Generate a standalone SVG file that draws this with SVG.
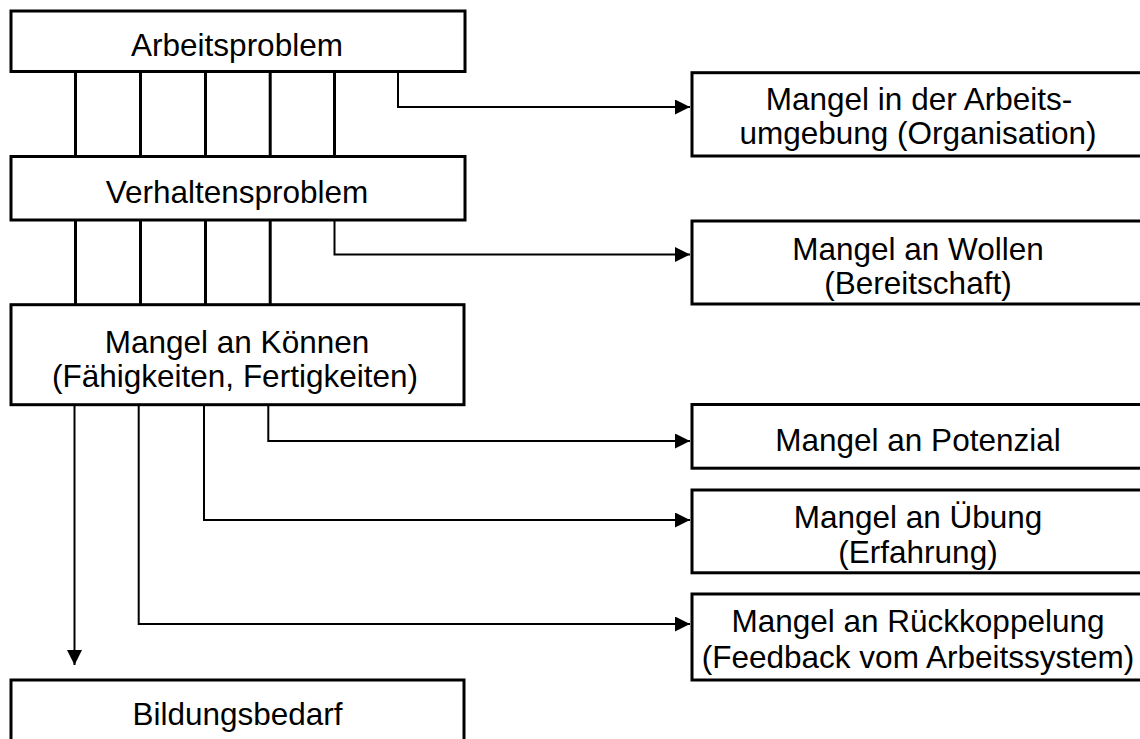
<svg xmlns="http://www.w3.org/2000/svg" width="1140" height="739" viewBox="0 0 1140 739">
  <style>
    .box { fill: #ffffff; stroke: #000000; stroke-width: 3; }
    .lbl { font-family: "Liberation Sans", Arial, sans-serif; font-size: 31.5px; fill: #000000; text-anchor: middle; }
    .bar { stroke: #000000; stroke-width: 3; fill: none; }
    .link { stroke: #000000; stroke-width: 2; fill: none; }
  </style>
  <defs>
    <marker id="arrow" viewBox="0 0 15 15" refX="15" refY="7.5" markerWidth="15" markerHeight="15" markerUnits="userSpaceOnUse" orient="auto">
      <path d="M0,0 L15,7.5 L0,15 Z" fill="#000000"/>
    </marker>
  </defs>

  <rect width="1140" height="739" fill="#ffffff"/>

  <!-- connectors -->
  <g id="connectors">
    <!-- Arbeitsproblem to Verhaltensproblem -->
    <line class="bar" x1="75.5" y1="71" x2="75.5" y2="157"/>
    <line class="bar" x1="140.5" y1="71" x2="140.5" y2="157"/>
    <line class="bar" x1="205.5" y1="71" x2="205.5" y2="157"/>
    <line class="bar" x1="270.2" y1="71" x2="270.2" y2="157"/>
    <line class="bar" x1="334.5" y1="71" x2="334.5" y2="157"/>
    <!-- Verhaltensproblem to Mangel an Koennen -->
    <line class="bar" x1="75.5" y1="219" x2="75.5" y2="305"/>
    <line class="bar" x1="140.5" y1="219" x2="140.5" y2="305"/>
    <line class="bar" x1="205.5" y1="219" x2="205.5" y2="305"/>
    <line class="bar" x1="270.2" y1="219" x2="270.2" y2="305"/>
    <!-- side branches -->
    <path class="link" d="M398,72 V107 H690" marker-end="url(#arrow)"/>
    <path class="link" d="M334.5,219 V254.5 H690" marker-end="url(#arrow)"/>
    <path class="link" d="M268.3,405 V441 H690" marker-end="url(#arrow)"/>
    <path class="link" d="M204,405 V520 H690" marker-end="url(#arrow)"/>
    <path class="link" d="M138.7,405 V624 H690" marker-end="url(#arrow)"/>
    <path class="link" d="M74.5,405 V665" marker-end="url(#arrow)"/>
  </g>

  <g id="arbeitsproblem">
    <rect class="box" x="11" y="11" width="454" height="60.5"/>
    <text class="lbl" x="237" y="56">Arbeitsproblem</text>
  </g>

  <g id="verhaltensproblem">
    <rect class="box" x="11" y="156.5" width="454" height="63.5"/>
    <text class="lbl" x="237" y="203.3">Verhaltensproblem</text>
  </g>

  <g id="koennen">
    <rect class="box" x="11" y="304.7" width="453" height="100"/>
    <text class="lbl" x="237" y="352.7">Mangel an Können</text>
    <text class="lbl" x="235" y="386.7">(Fähigkeiten, Fertigkeiten)</text>
  </g>

  <g id="bildungsbedarf">
    <rect class="box" x="11" y="680" width="453" height="80"/>
    <text class="lbl" x="237.5" y="725">Bildungsbedarf</text>
  </g>

  <g id="arbeitsumgebung">
    <rect class="box" x="692" y="72.7" width="460" height="83.3"/>
    <text class="lbl" x="919" y="109.7">Mangel in der Arbeits-</text>
    <text class="lbl" x="918" y="143.5">umgebung (Organisation)</text>
  </g>

  <g id="wollen">
    <rect class="box" x="692" y="221" width="460" height="83"/>
    <text class="lbl" x="918" y="260.3">Mangel an Wollen</text>
    <text class="lbl" x="918" y="293.7">(Bereitschaft)</text>
  </g>

  <g id="potenzial">
    <rect class="box" x="692" y="404.5" width="460" height="63.7"/>
    <text class="lbl" x="918" y="450.7">Mangel an Potenzial</text>
  </g>

  <g id="uebung">
    <rect class="box" x="692" y="490" width="460" height="82.8"/>
    <text class="lbl" x="918" y="527.7">Mangel an Übung</text>
    <text class="lbl" x="918" y="563.3">(Erfahrung)</text>
  </g>

  <g id="rueckkoppelung">
    <rect class="box" x="692" y="594" width="460" height="86"/>
    <text class="lbl" x="918" y="632.3">Mangel an Rückkoppelung</text>
    <text class="lbl" x="918" y="668.3">(Feedback vom Arbeitssystem)</text>
  </g>
</svg>
